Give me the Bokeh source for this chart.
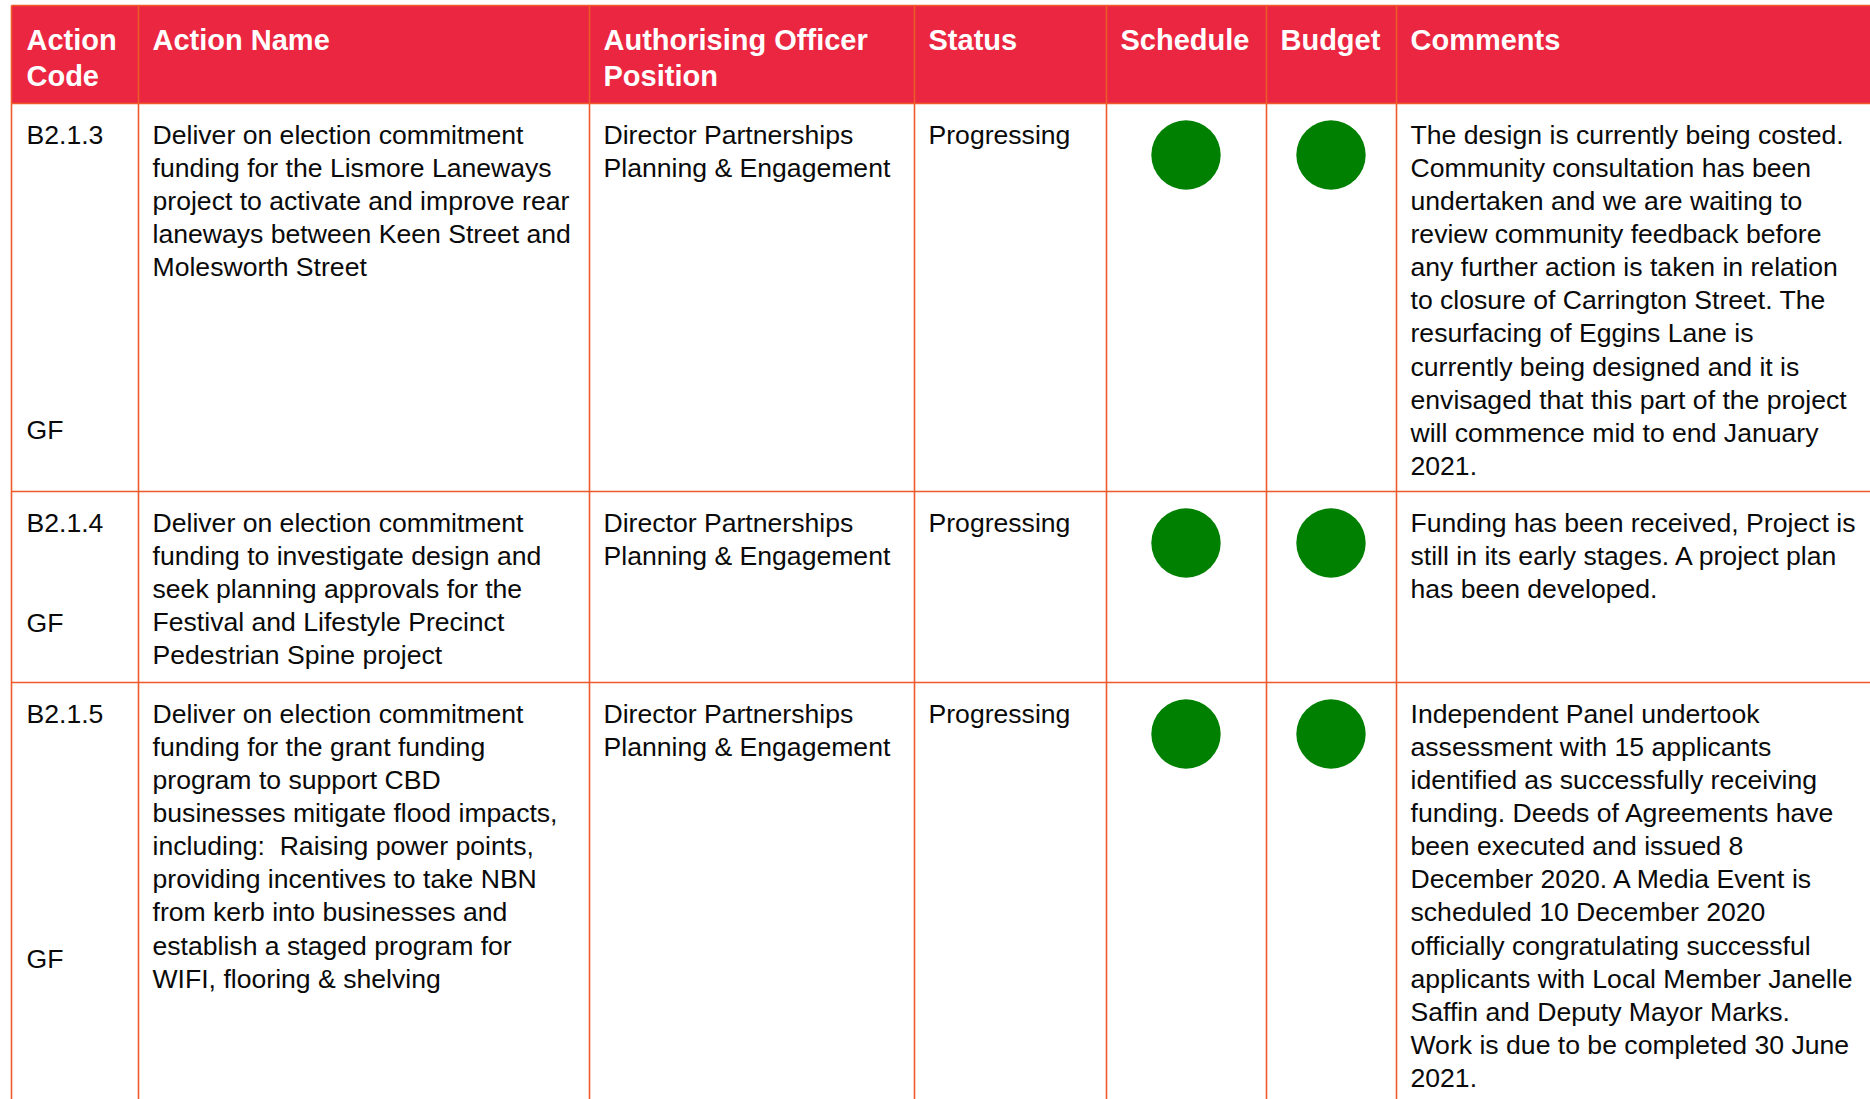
from bokeh.plotting import figure
from bokeh.models import Range1d
from bokeh.embed import file_html
from bokeh.resources import INLINE
from bokeh.core.properties import value

# ---------------- data ----------------
headers = [["Action", "Code"], ["Action Name"], ["Authorising Officer", "Position"],
           ["Status"], ["Schedule"], ["Budget"], ["Comments"]]

codes = ["B2.1.3", "B2.1.4", "B2.1.5"]
funding = ["GF", "GF", "GF"]

action_names = [
    ["Deliver on election commitment", "funding for the Lismore Laneways",
     "project to activate and improve rear", "laneways between Keen Street and",
     "Molesworth Street"],
    ["Deliver on election commitment", "funding to investigate design and",
     "seek planning approvals for the", "Festival and Lifestyle Precinct",
     "Pedestrian Spine project"],
    ["Deliver on election commitment", "funding for the grant funding",
     "program to support CBD", "businesses mitigate flood impacts,",
     "including:\u00a0 Raising power points,", "providing incentives to take NBN",
     "from kerb into businesses and", "establish a staged program for",
     "WIFI, flooring & shelving"],
]

officers = [["Director Partnerships", "Planning & Engagement"]] * 3
statuses = ["Progressing", "Progressing", "Progressing"]
schedule = ["on track", "on track", "on track"]
budget = ["on track", "on track", "on track"]

comments = [
    ["The design is currently being costed.", "Community consultation has been",
     "undertaken and we are waiting to", "review community feedback before",
     "any further action is taken in relation", "to closure of Carrington Street. The",
     "resurfacing of Eggins Lane is", "currently being designed and it is",
     "envisaged that this part of the project", "will commence mid to end January",
     "2021."],
    ["Funding has been received, Project is", "still in its early stages. A project plan",
     "has been developed."],
    ["Independent Panel undertook", "assessment with 15 applicants",
     "identified as successfully receiving", "funding. Deeds of Agreements have",
     "been executed and issued 8", "December 2020. A Media Event is",
     "scheduled 10 December 2020", "officially congratulating successful",
     "applicants with Local Member Janelle", "Saffin and Deputy Mayor Marks.",
     "Work is due to be completed 30 June", "2021."],
]

status_colours = {"on track": "#008000"}

# ---------------- layout ----------------
W, H = 1870, 1099
col_edges = [11, 138, 589, 914, 1106, 1266, 1396, 1880]
table_top = 5
header_bottom = 103
row_tops = [103, 491, 682]
table_bottom = 1110
pad_x = 14
header_baselines = [50, 86]
first_offset = 41
line_step = 33.15
gf_offsets = [336, 141, 286.5]
circle_offset = 51.5
circle_r = 34.7
body_dy = -10     # renderer baseline correction
head_dy = -11

HEADER_RED = "#EB2641"
GRID = "#EF5A2A"
FONT = "Liberation Sans"

p = figure(width=W, height=H, output_backend="svg", toolbar_location=None,
           x_range=Range1d(0, W), y_range=Range1d(H, 0),
           x_axis_location=None, y_axis_location=None, min_border=0,
           background_fill_color="white", border_fill_color="white")
p.grid.visible = False
p.outline_line_color = None

# header band
p.quad(left=[col_edges[0]], right=[col_edges[-1]], top=[table_top], bottom=[header_bottom],
       fill_color=HEADER_RED, line_color=None)

# grid lines
hx0, hx1, hy = [], [], []
for y in [table_top, header_bottom] + row_tops[1:]:
    hx0.append(col_edges[0]); hx1.append(col_edges[-1]); hy.append(y)
p.segment(x0=hx0, y0=hy, x1=hx1, y1=hy, line_color=GRID, line_width=1.6)
vx = col_edges[:-1]
p.segment(x0=vx, y0=[table_top] * len(vx), x1=vx, y1=[table_bottom] * len(vx),
          line_color=GRID, line_width=1.6)

# header texts
hxs, hys, hts = [], [], []
for ci, lines in enumerate(headers):
    for li, t in enumerate(lines):
        hxs.append(col_edges[ci] + pad_x + (1 if ci == 0 else 0))
        hys.append(header_baselines[li] + head_dy)
        hts.append(t)
p.text(x=hxs, y=hys, text=hts, text_color="white", text_font=value(FONT),
       text_font_style="bold", text_font_size="29px", text_baseline="alphabetic",
       text_align="left")

# body texts
bx, by, bt = [], [], []
def add_lines(col, row, lines):
    for li, t in enumerate(lines):
        bx.append(col_edges[col] + pad_x + (1 if col == 0 else 0))
        by.append(row_tops[row] + first_offset + li * line_step + body_dy)
        bt.append(t)

for r in range(3):
    add_lines(0, r, [codes[r]])
    bx.append(col_edges[0] + pad_x + 1)
    by.append(row_tops[r] + gf_offsets[r] + body_dy)
    bt.append(funding[r])
    add_lines(1, r, action_names[r])
    add_lines(2, r, officers[r])
    add_lines(3, r, [statuses[r]])
    add_lines(6, r, comments[r])

p.text(x=bx, y=by, text=bt, text_color="#0a0a0a", text_font=value(FONT),
       text_font_size="26.6px", text_baseline="alphabetic", text_align="left")

# status circles
cx, cy, cc = [], [], []
for r in range(3):
    for col, st in ((4, schedule[r]), (5, budget[r])):
        cx.append((col_edges[col] + col_edges[col + 1]) / 2 - 0.5)
        cy.append(row_tops[r] + circle_offset)
        cc.append(status_colours[st])
p.circle(x=cx, y=cy, radius=circle_r, fill_color=cc, line_color=None)

open("out.html", "w").write(file_html(p, INLINE))
